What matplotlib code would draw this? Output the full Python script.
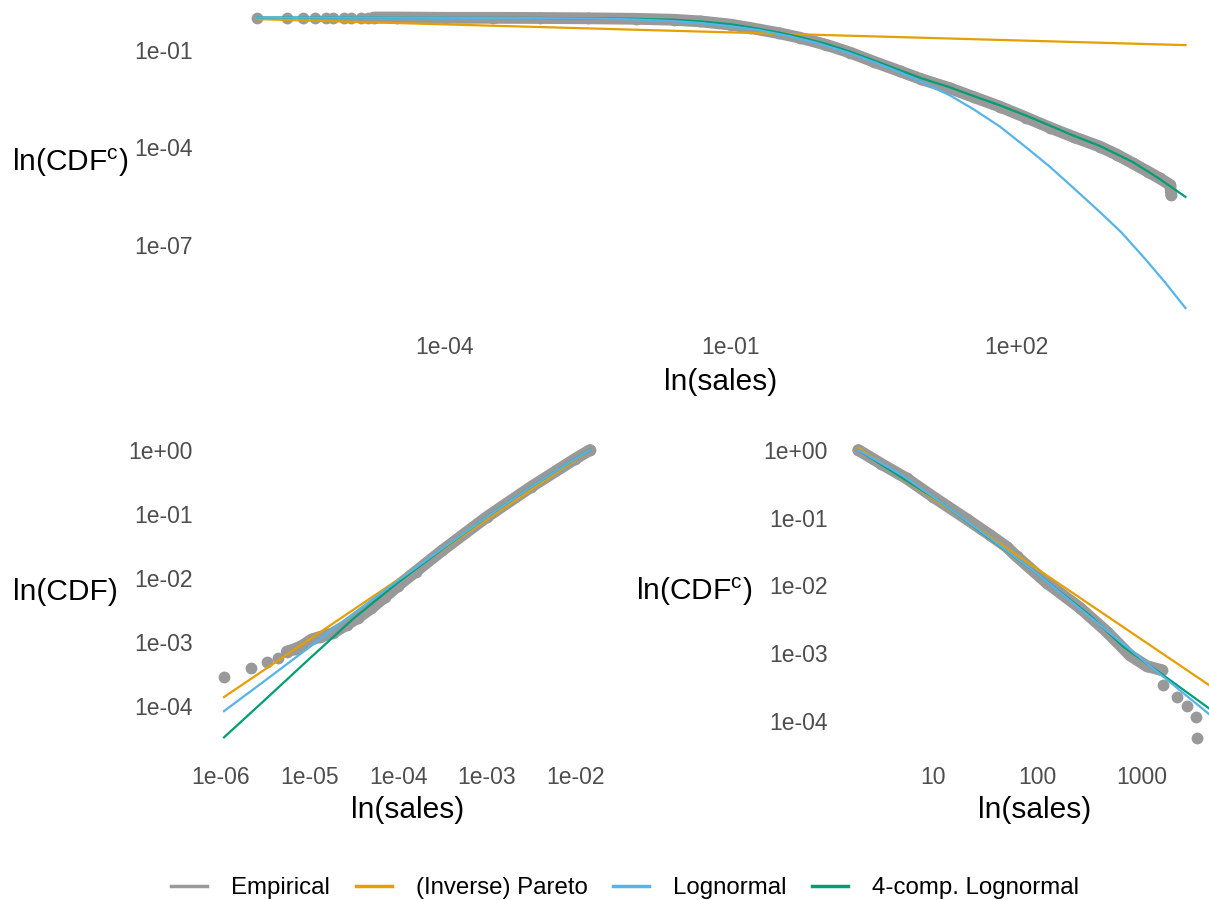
import numpy as np
import matplotlib
matplotlib.use("Agg")
import matplotlib.pyplot as plt
from matplotlib.lines import Line2D
from matplotlib.ticker import FixedLocator, FixedFormatter, NullLocator

plt.rcParams["font.family"] = ["Liberation Sans", "DejaVu Sans"]
plt.rcParams["mathtext.fontset"] = "custom"
plt.rcParams["mathtext.rm"] = "Liberation Sans"
plt.rcParams["mathtext.it"] = "Liberation Sans:italic"

W, H = 1209, 900
GREY, ORANGE, BLUE, GREEN = "#999999", "#E69F00", "#56B4E9", "#009E73"
SERIES = ["Empirical", "(Inverse) Pareto", "Lognormal", "4-comp. Lognormal"]

# ---- data (log10 of x and of the plotted probability) ----
# top: full sample, complementary CDF
top_emp_lx = [-5.97, -5.66, -5.49, -5.36, -5.25, -5.17, -5.06, -4.99, -4.88, -4.81, -4.75, -4.5,
              -4.0, -3.5, -3.0, -2.5, -2.0, -1.6, -1.32, -1.0, -0.8, -0.5, -0.28, 0.0, 0.25,
              0.5, 0.77, 1.0, 1.30, 1.55, 1.82, 2.1, 2.35, 2.6, 2.87, 3.05, 3.22, 3.38, 3.50,
              3.61, 3.62]
top_emp_ly = [0, 0, 0, 0, 0, 0, 0, 0, 0, 0, 0, 0, -0.01, -0.01, -0.015, -0.025, -0.04, -0.07,
              -0.12, -0.22, -0.32, -0.48, -0.62, -0.84, -1.08, -1.36, -1.65, -1.90, -2.18,
              -2.45, -2.74, -3.08, -3.39, -3.68, -3.97, -4.22, -4.49, -4.75, -4.95, -5.15, -5.46]
top_par_lx = [-5.97, 3.77]
top_par_ly = [-0.05, -0.85]
top_logn_lx = [-5.97, -4.0, -3.0, -2.5, -2.0, -1.6, -1.32, -1.0, -0.7, -0.38, -0.1, 0.25, 0.5,
               0.77, 1.0, 1.30, 1.55, 1.82, 2.1, 2.35, 2.6, 2.87, 3.1, 3.35, 3.55, 3.77]
top_logn_ly = [0.0, -0.01, -0.02, -0.03, -0.06, -0.11, -0.17, -0.27, -0.39, -0.58, -0.78, -1.10,
               -1.37, -1.68, -1.98, -2.40, -2.83, -3.35, -4.00, -4.60, -5.26, -5.98, -6.62,
               -7.44, -8.13, -8.94]
top_4c_lx = [-5.97, -4.0, -3.0, -2.0, -1.6, -1.32, -1.0, -0.8, -0.5, -0.28, 0.0, 0.25, 0.5, 0.77,
             1.0, 1.30, 1.55, 1.82, 2.1, 2.35, 2.6, 2.87, 3.22, 3.50, 3.77]
top_4c_ly = [0.0, -0.01, -0.015, -0.04, -0.07, -0.12, -0.21, -0.30, -0.46, -0.60, -0.81, -1.05,
             -1.32, -1.62, -1.87, -2.15, -2.42, -2.70, -3.02, -3.33, -3.64, -3.95, -4.45, -4.97,
             -5.52]

# bottom left: lower tail, CDF
bl_emp_lx = [-5.966, -5.664, -5.484, -5.356, -5.258, -5.164, -5.073, -4.975, -4.881, -4.734,
             -4.58, -4.45, -4.3, -4.15, -4.0, -3.8, -3.5, -3.0, -2.5, -2.0, -1.83]
bl_emp_ly = [-3.55, -3.40, -3.32, -3.245, -3.15, -3.11, -3.05, -2.96, -2.92, -2.86, -2.73,
             -2.62, -2.47, -2.30, -2.12, -1.90, -1.57, -1.05, -0.58, -0.14, 0.0]
bl_par_lx = [-5.966, -1.83]
bl_par_ly = [-3.86, 0.0]
bl_logn_lx = [-5.966, -5.5, -5.0, -4.5, -4.0, -3.5, -3.0, -2.5, -2.0, -1.83]
bl_logn_ly = [-4.08, -3.6, -3.08, -2.55, -2.04, -1.54, -1.05, -0.58, -0.14, 0.0]
bl_4c_lx = [-5.966, -5.5, -5.0, -4.5, -4.0, -3.5, -3.0, -2.5, -2.0, -1.83]
bl_4c_ly = [-4.49, -3.9, -3.26, -2.63, -2.07, -1.55, -1.05, -0.58, -0.14, 0.0]

# bottom right: upper tail, complementary CDF
br_emp_lx = [0.285, 0.5, 0.748, 1.0, 1.322, 1.55, 1.705, 1.80, 2.088, 2.407, 2.662, 2.885,
             3.045, 3.189, 3.198, 3.332, 3.428, 3.517, 3.529]
br_emp_ly = [0.0, -0.20, -0.42, -0.69, -1.02, -1.26, -1.43, -1.57, -1.96, -2.33, -2.68, -3.03,
             -3.19, -3.25, -3.469, -3.641, -3.774, -3.945, -4.255]
br_par_lx = [0.285, 3.641]
br_par_ly = [0.03, -3.469]
br_logn_lx = [0.285, 0.7, 1.067, 1.5, 1.992, 2.5, 3.0, 3.641]
br_logn_ly = [0.0, -0.37, -0.763, -1.25, -1.82, -2.46, -3.09, -3.897]
br_4c_lx = [0.285, 1.067, 1.992, 2.5, 2.818, 3.2, 3.641]
br_4c_ly = [0.0, -0.763, -1.82, -2.44, -2.90, -3.32, -3.813]

top_xticks, top_xlabels = [1e-4, 1e-1, 1e2], ["1e-04", "1e-01", "1e+02"]
top_yticks, top_ylabels = [1e-1, 1e-4, 1e-7], ["1e-01", "1e-04", "1e-07"]
bl_xticks, bl_xlabels = [1e-6, 1e-5, 1e-4, 1e-3, 1e-2], ["1e-06", "1e-05", "1e-04", "1e-03", "1e-02"]
b_yticks, b_ylabels = [1, 1e-1, 1e-2, 1e-3, 1e-4], ["1e+00", "1e-01", "1e-02", "1e-03", "1e-04"]
br_xticks, br_xlabels = [10, 100, 1000], ["10", "100", "1000"]


def panel(fig, box, xmap, ymap, xticks, xlabels, yticks, ylabels, ypad):
    """Axes placed in pixel units; xmap/ymap = (pixel, log10 value, pixels per decade)."""
    left, right, top, bottom = box
    ax = fig.add_axes([left / W, 1 - bottom / H, (right - left) / W, (bottom - top) / H])
    ax.set_xscale("log"); ax.set_yscale("log")
    p0, v0, s = xmap
    ax.set_xlim(10 ** (v0 + (left - p0) / s), 10 ** (v0 + (right - p0) / s))
    p0, v0, s = ymap
    ax.set_ylim(10 ** (v0 - (bottom - p0) / s), 10 ** (v0 - (top - p0) / s))
    for sp in ax.spines.values():
        sp.set_visible(False)
    ax.xaxis.set_major_locator(FixedLocator(xticks)); ax.xaxis.set_major_formatter(FixedFormatter(xlabels))
    ax.yaxis.set_major_locator(FixedLocator(yticks)); ax.yaxis.set_major_formatter(FixedFormatter(ylabels))
    ax.xaxis.set_minor_locator(NullLocator()); ax.yaxis.set_minor_locator(NullLocator())
    ax.tick_params(axis="x", length=0, labelsize=16.5, labelcolor="#4D4D4D", pad=10)
    ax.tick_params(axis="y", length=0, labelsize=16.5, labelcolor="#4D4D4D", pad=ypad)
    return ax


def draw(ax, emp, par, logn, comp, band):
    lx, ly = np.array(emp[0]), np.array(emp[1])
    ex, ey = 10.0 ** lx, 10.0 ** ly
    m = (lx >= band[0]) & (lx <= band[1])
    # dense part of the empirical points reads as one thick band
    ax.plot(ex[m], ey[m], color=GREY, lw=8.5, solid_capstyle="round", solid_joinstyle="round", zorder=1)
    ax.plot(ex, ey, "o", color=GREY, ms=8.5, mew=0, zorder=1)
    ax.plot(10.0 ** np.array(par[0]), 10.0 ** np.array(par[1]), color=ORANGE, lw=1.6, zorder=2)
    ax.plot(10.0 ** np.array(comp[0]), 10.0 ** np.array(comp[1]), color=GREEN, lw=1.6, zorder=3)
    ax.plot(10.0 ** np.array(logn[0]), 10.0 ** np.array(logn[1]), color=BLUE, lw=1.6, zorder=4)


def labels(ax, ylab, yx, xy):
    ax.set_xlabel("ln(sales)", fontsize=21.5, va="center")
    ax.xaxis.set_label_coords(0.5, xy)
    ax.set_ylabel(ylab, fontsize=21.5, rotation=0, ha="right", va="center")
    ax.yaxis.set_label_coords(yx, 0.5)


fig = plt.figure(figsize=(W / 100, H / 100), dpi=100)
fig.patch.set_facecolor("white")

ax1 = panel(fig, (211, 1231, 3, 322), (445, -4, 95.3), (50, -1, 32.5),
            top_xticks, top_xlabels, top_yticks, top_ylabels, 13)
draw(ax1, (top_emp_lx, top_emp_ly), (top_par_lx, top_par_ly), (top_logn_lx, top_logn_ly),
     (top_4c_lx, top_4c_ly), (-4.8, 9))
labels(ax1, r"ln(CDF$^{\mathrm{c}}$)", (128 - 211) / 1020, (322 - 382) / 319)

ax2 = panel(fig, (208, 608, 432, 752), (221, -6, 88.5), (450, 0, 64),
            bl_xticks, bl_xlabels, b_yticks, b_ylabels, 11)
draw(ax2, (bl_emp_lx, bl_emp_ly), (bl_par_lx, bl_par_ly), (bl_logn_lx, bl_logn_ly),
     (bl_4c_lx, bl_4c_ly), (-5.3, 9))
labels(ax2, "ln(CDF)", (118 - 208) / 400, (752 - 810) / 320)

ax3 = panel(fig, (840, 1230, 432, 752), (933, 1, 104.5), (450, 0, 67.75),
            br_xticks, br_xlabels, b_yticks, b_ylabels, 9)
draw(ax3, (br_emp_lx, br_emp_ly), (br_par_lx, br_par_ly), (br_logn_lx, br_logn_ly),
     (br_4c_lx, br_4c_ly), (-9, 3.19))
labels(ax3, r"ln(CDF$^{\mathrm{c}}$)", (752 - 840) / 390, (752 - 810) / 320)

handles = [Line2D([], [], color=c, lw=2.5) for c in (GREY, ORANGE, BLUE, GREEN)]
fig.legend(handles, SERIES, loc="center", bbox_to_anchor=(625 / W, 1 - 888 / H), ncol=4,
           frameon=False, fontsize=17.3, handlelength=1.5, handletextpad=1.0, columnspacing=1.05)

fig.savefig("out.png", dpi=100)
